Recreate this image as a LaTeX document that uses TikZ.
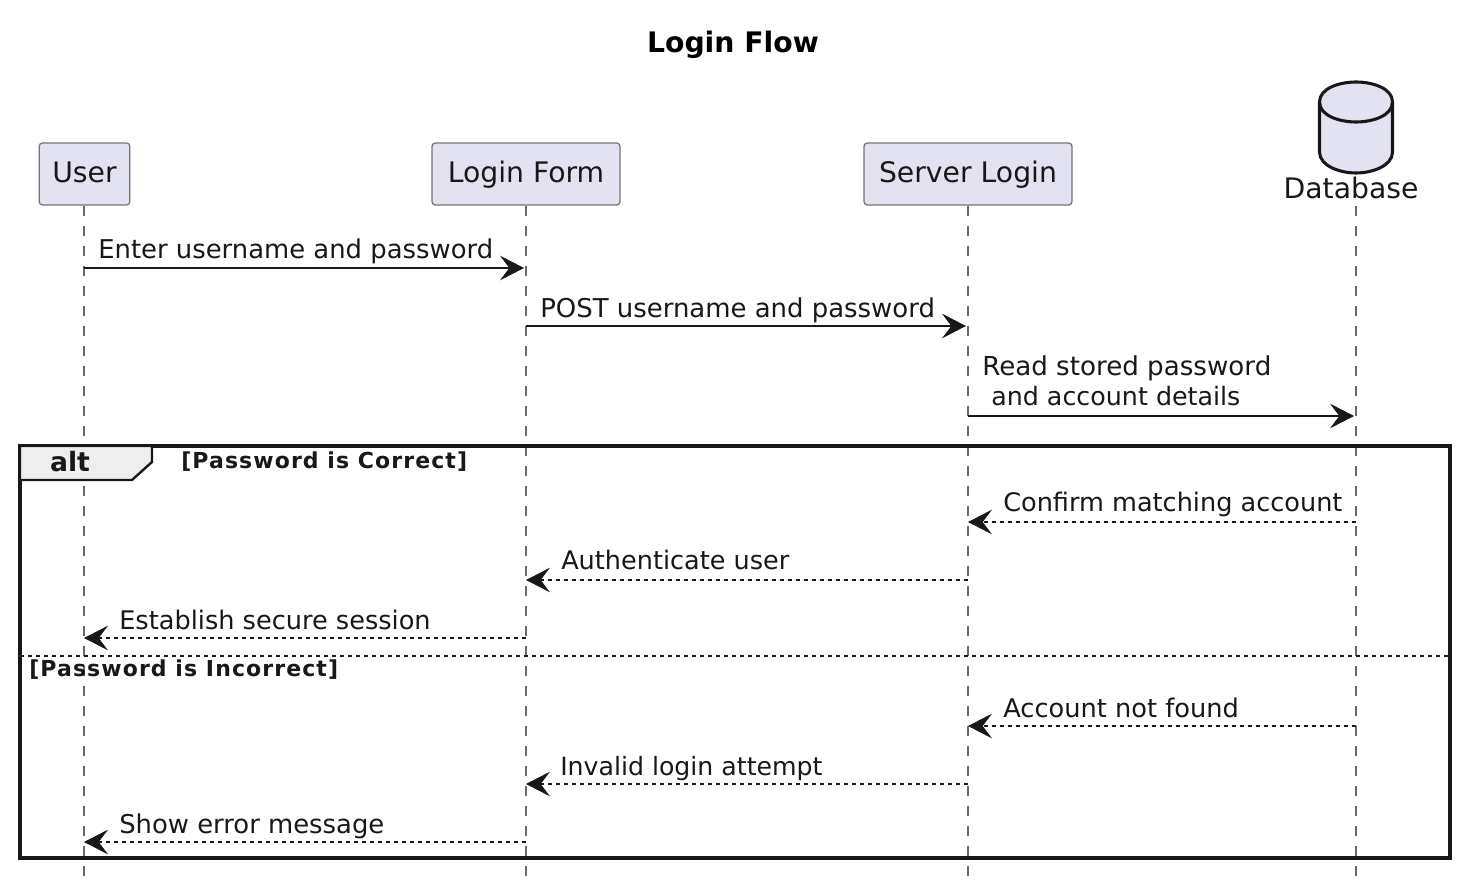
\documentclass[tikz,border=0pt]{standalone}
\usepackage{fontspec}
\setmainfont{DejaVu Sans}
\newfontfamily\condfamily[LetterSpace=5,BoldFont={DejaVu Sans Bold}]{DejaVu Sans}
\usetikzlibrary{arrows.meta,positioning}
\definecolor{pfill}{HTML}{E2E2F0}
\definecolor{ink}{HTML}{181818}
\definecolor{tabfill}{HTML}{EEEEEE}
\newcommand{\msgfont}{\fontsize{19.4pt}{22.4pt}\selectfont}
\newcommand{\msgsize}[1]{\fontsize{#1pt}{22.4pt}\selectfont}
\newcommand{\condfont}{\condfamily\fontsize{16.5pt}{19pt}\selectfont\bfseries}
\tikzset{
  x=0.75pt,y=-0.75pt,
  actorbox/.style={draw=ink!60,line width=0.9pt,fill=pfill,rounded corners=2.5pt,minimum height=46.5pt,inner sep=0pt,text=ink,font=\msgsize{21.2},text height=18pt,text depth=4.5pt},
  lifeline/.style={draw=ink!65,line width=0.8pt,dash pattern=on 7.5pt off 7.5pt},
  solidmsg/.style={draw=ink,line width=0.85pt,-{Stealth[length=18pt,width=18.5pt,inset=7pt]}},
  dashmsg/.style={solidmsg,dash pattern=on 3pt off 3pt},
  msgtext/.style={anchor=base west,inner sep=0pt,text=ink},
  condtext/.style={anchor=base west,inner sep=0pt,text=ink,font=\condfont},
  framebox/.style={draw=ink,line width=2.8pt},
}
\begin{document}
\begin{tikzpicture}
\useasboundingbox (0,0) rectangle (1458,880);
\fill[white] (0,0) rectangle (1458,880);
\node[inner sep=0pt,anchor=base,text=black,font=\fontsize{21.2pt}{24pt}\selectfont\bfseries] (title) at (733,53) {Login Flow};

% participants
\node[actorbox,minimum width=68pt] (user) at (84.5,174) {User};
\node[actorbox,minimum width=141pt] (form) at (526,174) {Login Form};
\node[actorbox,minimum width=156pt] (server) at (968,174) {Server Login};
\node[inner sep=0pt,anchor=base,text=ink,font=\msgsize{21.2}] (dblabel) at (1351,199) {Database};

% lifeline ends
\coordinate (uend) at (84,878);
\coordinate (fend) at (526,878);
\coordinate (send) at (968,878);
\coordinate (dend) at (1356,878);
\coordinate (dstart) at (1356,206);

\draw[lifeline] (user.south -| uend) -- (uend);
\draw[lifeline] (form.south) -- (fend);
\draw[lifeline] (server.south) -- (send);
\draw[lifeline] (dstart) -- (dend);

% database cylinder
\draw[draw=ink,line width=2.3pt,fill=pfill] (1319.5,102)
  .. controls (1319.5,88) and (1340,82) .. (1356,82)
  .. controls (1372,82) and (1392.5,88) .. (1392.5,102)
  -- (1392.5,152)
  .. controls (1392.5,166) and (1372,173) .. (1356,173)
  .. controls (1340,173) and (1319.5,166) .. (1319.5,152) -- cycle;
\draw[draw=ink,line width=2.3pt] (1319.5,102)
  .. controls (1319.5,116) and (1340,122) .. (1356,122)
  .. controls (1372,122) and (1392.5,116) .. (1392.5,102);

% message anchor points
\coordinate (u1) at (84,268); \coordinate (f1) at (524,268);
\coordinate (f2) at (526,326); \coordinate (s2) at (966,326);
\coordinate (s3) at (968,416); \coordinate (d3) at (1354,416);
\coordinate (d4) at (1356,522); \coordinate (s4) at (968,522);
\coordinate (s5) at (968,580); \coordinate (f5) at (526,580);
\coordinate (f6) at (526,638); \coordinate (u6) at (84,638);
\coordinate (d7) at (1356,726); \coordinate (s7) at (968,726);
\coordinate (s8) at (968,784); \coordinate (f8) at (526,784);
\coordinate (f9) at (526,842); \coordinate (u9) at (84,842);

\draw[solidmsg] (u1) -- (f1);
\draw[solidmsg] (f2) -- (s2);
\draw[solidmsg] (s3) -- (d3);
\draw[dashmsg] (d4) -- (s4);
\draw[dashmsg] (s5) -- (f5);
\draw[dashmsg] (f6) -- (u6);
\draw[dashmsg] (d7) -- (s7);
\draw[dashmsg] (s8) -- (f8);
\draw[dashmsg] (f9) -- (u9);

\node[msgtext,font=\msgsize{19.4}] (t1) at (98,259) {Enter username and password};
\node[msgtext,font=\msgsize{19.45}] (t2) at (540,317) {POST username and password};
\node[msgtext,font=\msgsize{19.6}] (t3a) at (982,375) {Read stored password};
\node[msgtext,font=\msgsize{19.0}] (t3b) at (991,405) {and account details};
\node[msgtext,font=\msgsize{19.17}] (t4) at (1003,511) {Confirm matching account};
\node[msgtext,font=\msgsize{19.15}] (t5) at (561,569) {Authenticate user};
\node[msgtext,font=\msgsize{19.2}] (t6) at (119,629) {Establish secure session};
\node[msgtext,font=\msgsize{19.25}] (t7) at (1003,717) {Account not found};
\node[msgtext,font=\msgsize{18.9}] (t8) at (560,775) {Invalid login attempt};
\node[msgtext,font=\msgsize{19.4}] (t9) at (119,833) {Show error message};

% alt frame
\draw[framebox] (20,446) rectangle (1450,858);
\draw[draw=ink,line width=1.8pt,fill=tabfill] (20,446) -- (152,446) -- (152,462) -- (132,480) -- (20,480) -- cycle;
\node[inner sep=0pt,anchor=base,text=ink,font=\fontsize{20pt}{22pt}\selectfont\bfseries] (alt) at (70,471) {alt};
\node[condtext] (c1) at (181,468) {[Password is Correct]};
\coordinate (sepl) at (20,656); \coordinate (sepr) at (1450,656);
\draw[draw=ink,line width=0.85pt,dash pattern=on 3pt off 3pt] (sepl) -- (sepr);
\node[condtext] (c2) at (29,676) {[Password is Incorrect]};
\end{tikzpicture}
\end{document}
